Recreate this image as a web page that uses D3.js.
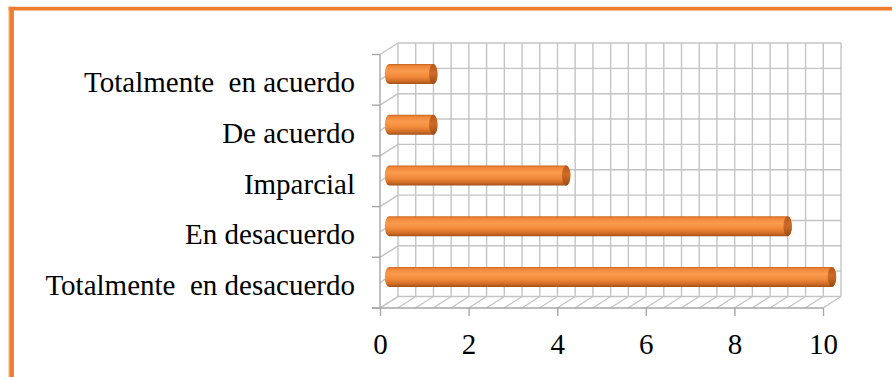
<!DOCTYPE html>
<html>
<head>
<meta charset="utf-8">
<script src="https://cdn.jsdelivr.net/npm/d3@7"></script>
<style>
  html, body { margin: 0; padding: 0; background: #ffffff; }
  svg { display: block; }
  svg text { font-family: "Liberation Serif", "Times New Roman", Times, serif; }
</style>
</head>
<body>
<svg id="chart" width="892" height="377"></svg>
<script>
// Survey responses, listed from the bottom bar to the top bar
const categories = [
  "Totalmente  en desacuerdo",
  "En desacuerdo",
  "Imparcial",
  "De acuerdo",
  "Totalmente  en acuerdo"
];
const values = [10, 9, 4, 1, 1];
const xTicks = [0, 2, 4, 6, 8, 10];
const minorStep = 0.4;

const W = 892, H = 377;
const svg = d3.select("#chart");
const FONT = '"Liberation Serif", "Times New Roman", Times, serif';

// Frame: orange rule along the top and left edges
svg.append("rect").attr("x", 8).attr("y", 10).attr("width", W - 8).attr("height", 1.2).attr("fill", "#f9cfae");
svg.append("rect").attr("x", 8).attr("y", 6.8).attr("width", W - 8).attr("height", 3.4).attr("fill", "#ED7D31");
svg.append("rect").attr("x", 8.2).attr("y", 6.8).attr("width", 1.2).attr("height", H).attr("fill", "#f9cfae");
svg.append("rect").attr("x", 9.3).attr("y", 6.8).attr("width", 4.6).attr("height", H).attr("fill", "#ED7D31");

// Front plane scales and the depth offset of the 3-D box
const x = d3.scaleLinear().domain([0, 10]).range([380, 823]);
const y = d3.scaleBand().domain(categories).range([308, 54.5]);
const dx = 18, dy = -11.5;
const yTop = 54.5, yBot = 308;
const half = y.bandwidth() / 2;
const hLevels = d3.range(0, 11).map(i => yBot - i * half);
const vLevels = d3.range(0, Math.round(10 / minorStep) + 1).map(i => i * minorStep);

const grid = svg.append("g")
  .attr("fill", "none")
  .attr("stroke", "#c4c4c4")
  .attr("stroke-width", 1.4);

// Back wall
grid.selectAll(".bv").data(vLevels).join("line")
  .attr("x1", d => x(d) + dx).attr("x2", d => x(d) + dx)
  .attr("y1", yTop + dy).attr("y2", yBot + dy);
grid.selectAll(".bh").data(hLevels).join("line")
  .attr("x1", x(0) + dx).attr("x2", x(10) + dx)
  .attr("y1", d => d + dy).attr("y2", d => d + dy);

// Side wall
grid.selectAll(".sw").data(hLevels).join("line")
  .attr("x1", x(0)).attr("y1", d => d)
  .attr("x2", x(0) + dx).attr("y2", d => d + dy);

// Floor
grid.selectAll(".fl").data(vLevels).join("line")
  .attr("x1", d => x(d)).attr("y1", yBot)
  .attr("x2", d => x(d) + dx).attr("y2", yBot + dy);

// Cylinder shading
const defs = svg.append("defs");
const body = defs.append("linearGradient").attr("id", "cyl").attr("x1", 0).attr("y1", 0).attr("x2", 0).attr("y2", 1);
[["0%", "#c9661f"], ["10%", "#ef873a"], ["35%", "#fb9b4d"], ["62%", "#f28a3b"], ["85%", "#d06d25"], ["100%", "#a4501a"]]
  .forEach(([o, c]) => body.append("stop").attr("offset", o).attr("stop-color", c));
const cap = defs.append("linearGradient").attr("id", "cap").attr("x1", 0).attr("y1", 0).attr("x2", 0).attr("y2", 1);
[["0%", "#b3581b"], ["45%", "#cf6c27"], ["100%", "#9c4a16"]]
  .forEach(([o, c]) => cap.append("stop").attr("offset", o).attr("stop-color", c));

// Bars sit halfway into the box depth
const barR = 10, capRx = 4.2;
const bars = svg.append("g");
categories.forEach((c, i) => {
  const cy = y(c) + half + dy / 2;
  const x0 = x(0) + dx / 2;
  const x1 = x(values[i]) + dx / 2;
  const g = bars.append("g");
  g.append("path")
    .attr("d", `M${x0},${cy - barR} L${x1},${cy - barR} ` +
               `A${capRx},${barR} 0 0 1 ${x1},${cy + barR} ` +
               `L${x0},${cy + barR} A${capRx},${barR} 0 0 1 ${x0},${cy - barR} Z`)
    .attr("fill", "url(#cyl)");
  g.append("ellipse")
    .attr("cx", x1).attr("cy", cy).attr("rx", capRx).attr("ry", barR)
    .attr("fill", "url(#cap)");
});

// Axis lines on the front plane
const axisColor = "#a6a6a6";
svg.append("line").attr("x1", x(0)).attr("x2", x(0)).attr("y1", yTop).attr("y2", yBot)
  .attr("stroke", axisColor).attr("stroke-width", 1.4);
svg.append("line").attr("x1", 372).attr("x2", x(10)).attr("y1", yBot).attr("y2", yBot)
  .attr("stroke", axisColor).attr("stroke-width", 1.4);
svg.append("g").selectAll("line").data(d3.range(0, 6).map(i => yBot - i * y.bandwidth())).join("line")
  .attr("x1", 372).attr("x2", x(0)).attr("y1", d => d).attr("y2", d => d)
  .attr("stroke", axisColor).attr("stroke-width", 1.4);

// Value axis
const xAxis = svg.append("g")
  .attr("transform", `translate(0,${yBot})`)
  .call(d3.axisBottom(x).tickValues(xTicks).tickSize(8).tickPadding(17).tickFormat(d3.format("d")));
xAxis.attr("font-family", null).attr("font-size", null);
xAxis.select(".domain").remove();
xAxis.selectAll(".tick line").attr("stroke", axisColor).attr("stroke-width", 1.4);
xAxis.selectAll(".tick text")
  .style("font-family", FONT).style("font-size", "29px").attr("fill", "#000");

// Category axis labels
const yAxis = svg.append("g")
  .attr("transform", `translate(${x(0)},0)`)
  .call(d3.axisLeft(y).tickSize(0).tickPadding(25));
yAxis.attr("font-family", null).attr("font-size", null);
yAxis.select(".domain").remove();
yAxis.selectAll(".tick line").remove();
yAxis.selectAll(".tick text")
  .attr("xml:space", "preserve")
  .style("white-space", "pre")
  .style("font-family", FONT).style("font-size", "29px").attr("fill", "#000")
  .attr("dy", "0.43em");
</script>
</body>
</html>
